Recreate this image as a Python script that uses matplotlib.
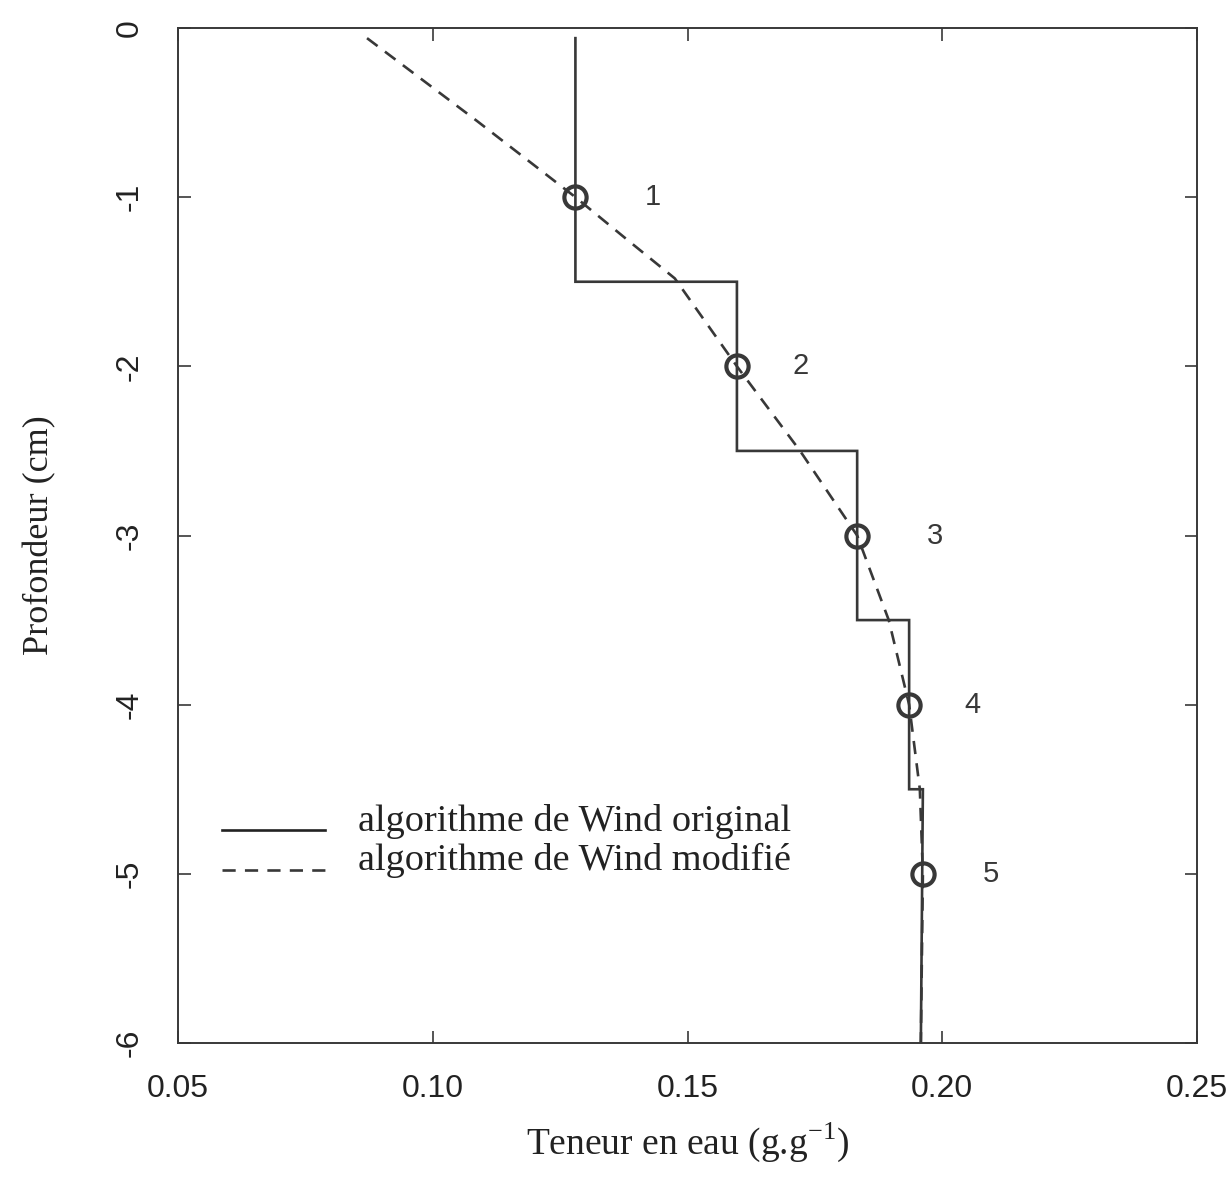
import matplotlib.pyplot as plt
import numpy as np

# --- data ---
# step profile (algorithme de Wind original): layer boundaries and water content
step_depth = [-0.06, -1.5, -1.5, -2.5, -2.5, -3.5, -3.5, -4.5, -4.5, -6.0]
step_theta = [0.128, 0.128, 0.1597, 0.1597, 0.1833, 0.1833, 0.1935, 0.1935, 0.1962, 0.1958]

# smooth profile (algorithme de Wind modifié)
mod_depth = [-0.06, -0.55, -1.0, -1.25, -1.48, -2.0, -2.5, -3.0, -3.5, -4.0, -4.5, -5.0, -6.0]
mod_theta = [0.0871, 0.1087, 0.128, 0.1381, 0.1475, 0.1597, 0.1721, 0.1833, 0.1895, 0.1935, 0.1956, 0.1962, 0.1958]

# measurement points (numbered)
pt_depth = [-1, -2, -3, -4, -5]
pt_theta = [0.128, 0.1597, 0.1833, 0.1935, 0.1962]
pt_labels = ["1", "2", "3", "4", "5"]

x_ticks = [0.05, 0.10, 0.15, 0.20, 0.25]
x_ticklabels = ["0.05", "0.10", "0.15", "0.20", "0.25"]
y_ticks = [0, -1, -2, -3, -4, -5, -6]

ink = "#383838"
sans = "Liberation Sans"
serif = "Liberation Serif"

fig = plt.figure(figsize=(12.3, 11.93), dpi=100)
ax = fig.add_axes([178 / 1230, 1 - 1043 / 1193, (1197 - 178) / 1230, (1043 - 28) / 1193])

ax.plot(step_theta, step_depth, color=ink, lw=1.9, solid_joinstyle="miter")
ax.plot(mod_theta, mod_depth, color=ink, lw=1.9, linestyle=(0, (5, 3.5)))
ax.plot(pt_theta, pt_depth, linestyle="none", marker="o", ms=16, mfc="none",
        mec=ink, mew=3.0)

# numbers next to the points (offsets in points)
label_dx = [50, 40, 50, 40, 43]
for x, y, s, dx in zip(pt_theta, pt_depth, pt_labels, label_dx):
    ax.annotate(s, (x, y), xytext=(dx, 0), textcoords="offset points",
                ha="left", va="center", fontsize=21, family=sans, color=ink)

# legend drawn by hand like the original
ax.plot([0.0586, 0.0789], [-4.74, -4.74], color="#222222", lw=1.9)
ax.plot([0.0586, 0.0789], [-4.98, -4.98], color=ink, lw=1.9, linestyle=(0, (5, 3.5)))
ax.text(0.0853, -4.69, "algorithme de Wind original", family=serif, fontsize=27.5,
        color="#222222", va="center", ha="left")
ax.text(0.0853, -4.92, "algorithme de Wind modifié", family=serif, fontsize=27.5,
        color="#222222", va="center", ha="left")

ax.set_xlim(0.05, 0.25)
ax.set_ylim(-6, 0)
ax.set_xticks(x_ticks)
ax.set_xticklabels(x_ticklabels, family=sans, fontsize=23, color="#222222")
ax.set_yticks(y_ticks)
ax.set_yticklabels([str(v) for v in y_ticks], family=sans, fontsize=23,
                   color="#222222", rotation=90, va="center")
ax.tick_params(direction="in", length=9, width=1.2, color=ink,
               top=True, right=True)
ax.tick_params(axis="y", pad=24)
ax.tick_params(axis="x", pad=22)
for sp in ax.spines.values():
    sp.set_color(ink)
    sp.set_linewidth(1.4)

ax.set_xlabel("Teneur en eau (g.g$^{\\mathregular{-1}}$)", family=serif,
              fontsize=27, color="#222222", labelpad=12)
ax.set_ylabel("Profondeur (cm)", family=serif, fontsize=26, color="#222222",
              labelpad=42)

fig.savefig("out.png", dpi=100, facecolor="white")
